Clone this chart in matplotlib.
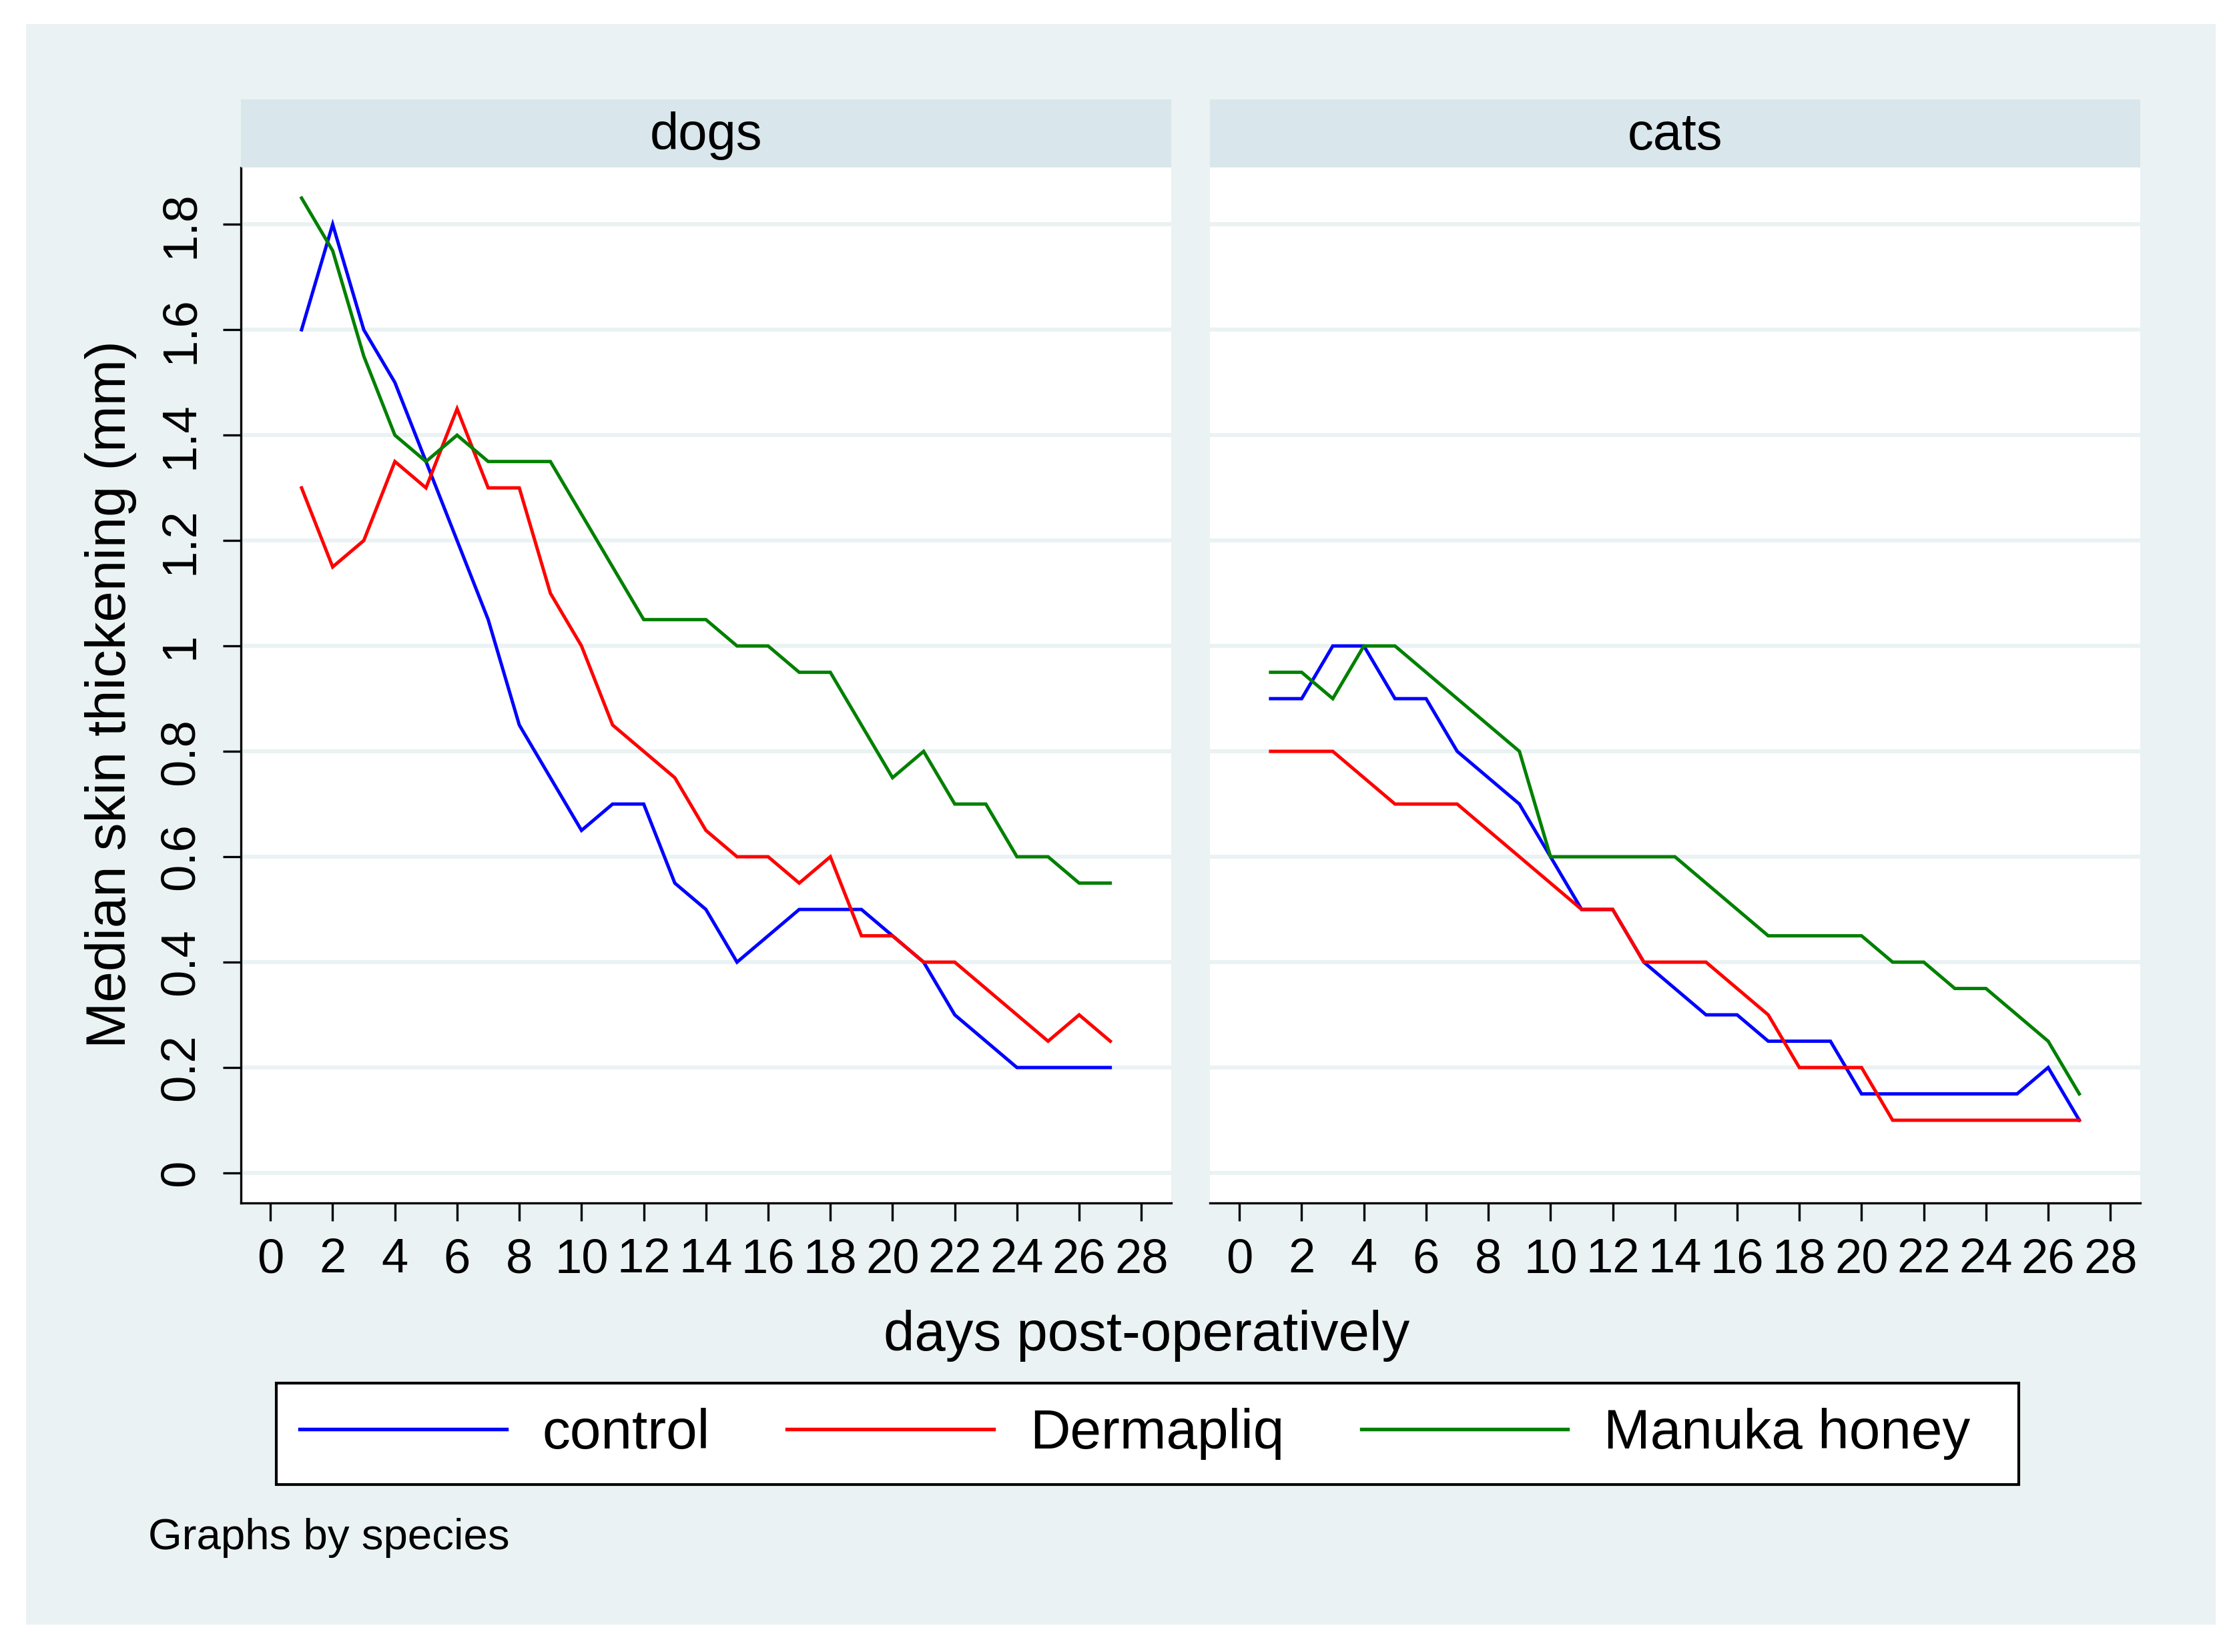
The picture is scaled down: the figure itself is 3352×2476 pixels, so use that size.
import matplotlib
matplotlib.use('Agg')
import matplotlib.pyplot as plt
from matplotlib.patches import Rectangle

plt.rcParams['font.family'] = ['Liberation Sans', 'DejaVu Sans']

# ── Data (median skin thickening, mm) ─────────────────────────────────────
days = list(range(1, 28))
species = ['dogs', 'cats']
groups = ['control', 'Dermapliq', 'Manuka honey']
colors = ['#0000FF', '#FF0000', '#008000']

dogs_control = [1.6, 1.8, 1.6, 1.5, 1.35, 1.2, 1.05, 0.85, 0.75, 0.65, 0.7, 0.7,
                0.55, 0.5, 0.4, 0.45, 0.5, 0.5, 0.5, 0.45, 0.4, 0.3, 0.25, 0.2,
                0.2, 0.2, 0.2]
dogs_dermapliq = [1.3, 1.15, 1.2, 1.35, 1.3, 1.45, 1.3, 1.3, 1.1, 1.0, 0.85, 0.8,
                  0.75, 0.65, 0.6, 0.6, 0.55, 0.6, 0.45, 0.45, 0.4, 0.4, 0.35,
                  0.3, 0.25, 0.3, 0.25]
dogs_manuka = [1.85, 1.75, 1.55, 1.4, 1.35, 1.4, 1.35, 1.35, 1.35, 1.25, 1.15,
               1.05, 1.05, 1.05, 1.0, 1.0, 0.95, 0.95, 0.85, 0.75, 0.8, 0.7,
               0.7, 0.6, 0.6, 0.55, 0.55]

cats_control = [0.9, 0.9, 1.0, 1.0, 0.9, 0.9, 0.8, 0.75, 0.7, 0.6, 0.5, 0.5,
                0.4, 0.35, 0.3, 0.3, 0.25, 0.25, 0.25, 0.15, 0.15, 0.15, 0.15,
                0.15, 0.15, 0.2, 0.1]
cats_dermapliq = [0.8, 0.8, 0.8, 0.75, 0.7, 0.7, 0.7, 0.65, 0.6, 0.55, 0.5, 0.5,
                  0.4, 0.4, 0.4, 0.35, 0.3, 0.2, 0.2, 0.2, 0.1, 0.1, 0.1, 0.1,
                  0.1, 0.1, 0.1]
cats_manuka = [0.95, 0.95, 0.9, 1.0, 1.0, 0.95, 0.9, 0.85, 0.8, 0.6, 0.6, 0.6,
               0.6, 0.6, 0.55, 0.5, 0.45, 0.45, 0.45, 0.45, 0.4, 0.4, 0.35,
               0.35, 0.3, 0.25, 0.15]

series = {
    'dogs': [dogs_control, dogs_dermapliq, dogs_manuka],
    'cats': [cats_control, cats_dermapliq, cats_manuka],
}

x_ticks = list(range(0, 29, 2))
y_ticks = [0, 0.2, 0.4, 0.6, 0.8, 1, 1.2, 1.4, 1.6, 1.8]
y_ticklabels = ['0', '0.2', '0.4', '0.6', '0.8', '1', '1.2', '1.4', '1.6', '1.8']

# ── Styling (Stata s2color look) ──────────────────────────────────────────
BG = '#EAF2F3'
STRIP = '#D9E6EB'
GRID = '#EAF2F3'
W, H = 3352, 2476
DPI = 300

fig = plt.figure(figsize=(W / DPI, H / DPI), dpi=DPI, facecolor='white')

# outer graph region (behind everything)
fig.patches.append(Rectangle((39 / W, 1 - 2435 / H), (3320 - 39) / W,
                             (2435 - 36) / H, transform=fig.transFigure,
                             facecolor=BG, edgecolor='none', zorder=-10))

panel_left = {'dogs': 361, 'cats': 1813}
panel_w = 1394
plot_top, plot_bot = 251, 1803
strip_top = 149

for sp in species:
    x0 = panel_left[sp] / W
    ax = fig.add_axes([x0, 1 - plot_bot / H, panel_w / W, (plot_bot - plot_top) / H])
    ax.set_facecolor('white')
    for vals, c in zip(series[sp], colors):
        ax.plot(days, vals, color=c, linewidth=1.2, solid_joinstyle='miter')
    ax.set_xlim(-0.95, 28.96)
    ax.set_ylim(-0.057, 1.908)
    ax.set_yticks(y_ticks)
    ax.set_xticks(x_ticks)
    ax.set_xticklabels([str(t) for t in x_ticks], fontsize=17.4)
    ax.grid(axis='y', color=GRID, linewidth=1.45)
    ax.set_axisbelow(True)
    ax.tick_params(axis='x', length=6.5, width=0.8, pad=6, direction='out')
    for s in ['top', 'right']:
        ax.spines[s].set_visible(False)
    ax.spines['bottom'].set_linewidth(0.8)
    if sp == 'dogs':
        ax.set_yticklabels(y_ticklabels, rotation=90, va='center', fontsize=17.4)
        ax.tick_params(axis='y', length=6.5, width=0.8, pad=7, direction='out')
        ax.spines['left'].set_linewidth(0.8)
    else:
        ax.spines['left'].set_visible(False)
        ax.tick_params(axis='y', length=0, labelleft=False)

    # strip with panel title
    sax = fig.add_axes([x0, 1 - plot_top / H, panel_w / W, (plot_top - strip_top) / H])
    sax.set_facecolor(STRIP)
    sax.set_xticks([])
    sax.set_yticks([])
    for s in sax.spines.values():
        s.set_visible(False)
    sax.text(0.5, 0.47, sp, ha='center', va='center', fontsize=18.7,
             transform=sax.transAxes)

# axis titles
fig.text(1718 / W, 1 - 2024 / H, 'days post-operatively', ha='center',
         va='baseline', fontsize=20.0)
fig.text(166 / W, 1 - 1041 / H, 'Median skin thickening (mm)', ha='center',
         va='center', rotation=90, fontsize=20.0)

# legend frame + entries
fig.patches.append(Rectangle((414 / W, 1 - 2225 / H), (3025 - 414) / W,
                             (2225 - 2073) / H, transform=fig.transFigure,
                             facecolor='white', edgecolor='black',
                             linewidth=1.0, zorder=1))
handles = [plt.Line2D([], [], color=c, linewidth=1.3) for c in colors]
fig.legend(handles, groups, loc='center left',
           bbox_to_anchor=(449 / W, 1 - 2149 / H), ncol=3, frameon=False,
           fontsize=20.1, handlelength=3.7, handletextpad=0.64,
           columnspacing=1.38, borderpad=0, borderaxespad=0)

fig.text(222 / W, 1 - 2322 / H, 'Graphs by species', ha='left',
         va='baseline', fontsize=15.7)

fig.savefig('out.png', dpi=DPI, facecolor='white')
